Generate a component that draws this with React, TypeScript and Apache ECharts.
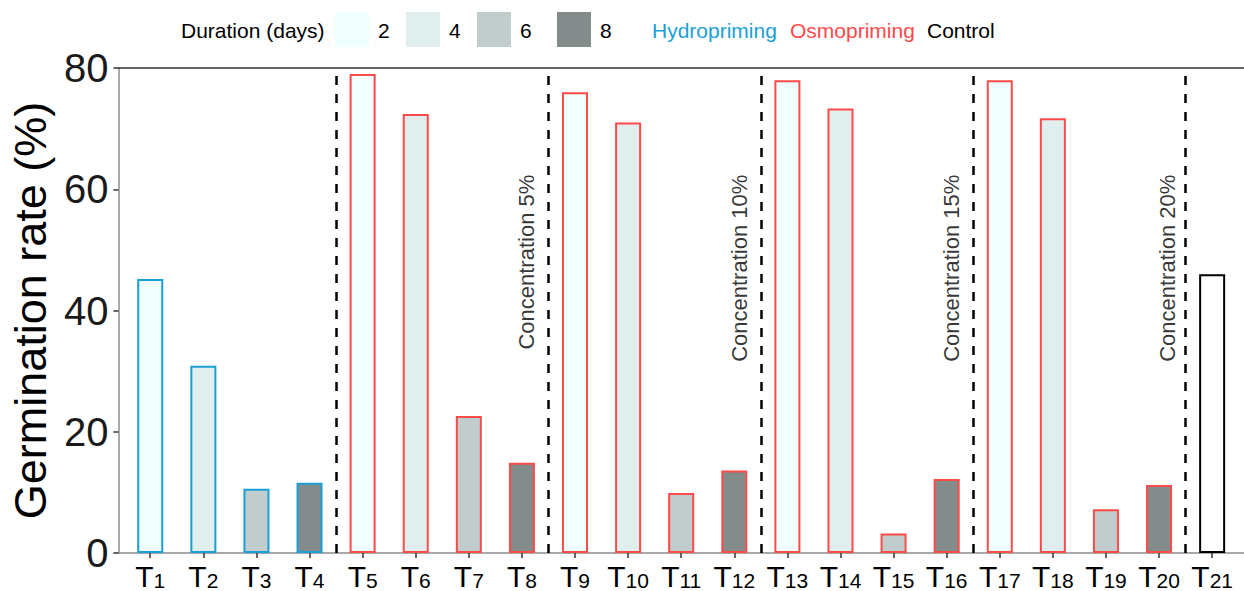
import React, { useEffect, useRef } from "react";
import * as echarts from "echarts";

const treatmentNumbers = [1, 2, 3, 4, 5, 6, 7, 8, 9, 10, 11, 12, 13, 14, 15, 16, 17, 18, 19, 20, 21];
const germinationRate = [45.2, 30.9, 10.6, 11.6, 79.0, 72.4, 22.6, 14.9, 76.0, 71.0, 9.9, 13.6, 78.0, 73.3, 3.2, 12.2, 78.0, 71.7, 7.2, 11.2, 46.0];
const durationDays = [2, 4, 6, 8, 2, 4, 6, 8, 2, 4, 6, 8, 2, 4, 6, 8, 2, 4, 6, 8, 0];
const primingType = [
  "Hydropriming", "Hydropriming", "Hydropriming", "Hydropriming",
  "Osmopriming", "Osmopriming", "Osmopriming", "Osmopriming",
  "Osmopriming", "Osmopriming", "Osmopriming", "Osmopriming",
  "Osmopriming", "Osmopriming", "Osmopriming", "Osmopriming",
  "Osmopriming", "Osmopriming", "Osmopriming", "Osmopriming",
  "Control",
];
const dividerPositions = [4.5, 8.5, 12.5, 16.5, 20.5];
const concentrationLabels = ["Concentration 5%", "Concentration 10%", "Concentration 15%", "Concentration 20%"];
const concentrationLabelX = [8.09, 12.09, 16.09, 20.15];
const concentrationLabelTop = 62.4;
const durationLegend = [2, 4, 6, 8];
const primingLegend = ["Hydropriming", "Osmopriming", "Control"];
const yTicks = { min: 0, max: 80, interval: 20 };

const durationFill: Record<number, string> = {
  0: "#FFFFFF",
  2: "#F0FFFF",
  4: "#E0EEEE",
  6: "#C1CDCD",
  8: "#838B8B",
};
const primingColor: Record<string, string> = {
  Hydropriming: "#1A9FD6",
  Osmopriming: "#FF4A4A",
  Control: "#000000",
};

const FONT = "'Liberation Sans', Arial, sans-serif";

export default function App() {
  const ref = useRef<HTMLDivElement>(null);

  useEffect(() => {
    if (!ref.current) return;
    const chart = echarts.init(ref.current, null, { renderer: "svg" });

    const barData = treatmentNumbers.map((n, i) => ({
      value: [n, germinationRate[i]],
      itemStyle: {
        color: durationFill[durationDays[i]],
        borderColor: primingColor[primingType[i]],
        borderWidth: 2,
      },
    }));

    const labelData = concentrationLabels.map((name, i) => ({
      name,
      value: [concentrationLabelX[i], concentrationLabelTop],
    }));

    const legendEls: any[] = [];
    legendEls.push({
      type: "text",
      x: 181,
      y: 30,
      style: { text: "Duration (days)", font: `21px ${FONT}`, fill: "#000", textVerticalAlign: "middle" },
    });
    const boxX = [335, 406, 477, 557];
    durationLegend.forEach((d, i) => {
      legendEls.push({
        type: "rect",
        shape: { x: boxX[i], y: 12, width: 34, height: 35 },
        style: { fill: durationFill[d] },
      });
      legendEls.push({
        type: "text",
        x: boxX[i] + 43,
        y: 30,
        style: { text: String(d), font: `21px ${FONT}`, fill: "#000", textVerticalAlign: "middle" },
      });
    });
    const primX = [652, 790, 927];
    primingLegend.forEach((p, i) => {
      legendEls.push({
        type: "text",
        x: primX[i],
        y: 30,
        style: { text: p, font: `21px ${FONT}`, fill: primingColor[p], textVerticalAlign: "middle" },
      });
    });

    chart.setOption({
      animation: false,
      grid: { left: 114, top: 68, width: 1131, bottom: 38, containLabel: false },
      xAxis: [
        {
          type: "value",
          min: 0.4,
          max: 21.6,
          position: "bottom",
          axisLine: { show: true, lineStyle: { color: "#8c8c8c", width: 1.5 } },
          axisTick: { show: true, customValues: treatmentNumbers, length: 5, lineStyle: { color: "#333", width: 1.5 } },
          axisLabel: {
            customValues: treatmentNumbers,
            margin: 8,
            formatter: (v: number) => `{t|T}{s|${v}}`,
            rich: {
              t: { fontSize: 30, fontFamily: FONT, color: "#000", verticalAlign: "bottom", lineHeight: 30 },
              s: { fontSize: 21, fontFamily: FONT, color: "#000", verticalAlign: "bottom", lineHeight: 24 },
            },
          },
          splitLine: { show: false },
        },
        {
          type: "value",
          min: 0.4,
          max: 21.6,
          position: "top",
          axisLine: { show: true, lineStyle: { color: "#333", width: 1.5 } },
          axisTick: { show: false },
          axisLabel: { show: false },
          splitLine: { show: false },
        },
      ],
      yAxis: {
        type: "value",
        min: yTicks.min,
        max: yTicks.max,
        interval: yTicks.interval,
        name: "Germination rate (%)",
        nameLocation: "middle",
        nameGap: 62,
        nameTextStyle: { fontSize: 45, fontFamily: FONT, color: "#000" },
        axisLine: { show: true, lineStyle: { color: "#8c8c8c", width: 1.5 } },
        axisTick: { show: true, length: 5, lineStyle: { color: "#333", width: 1.5 } },
        axisLabel: { fontSize: 40, fontFamily: FONT, color: "#1a1a1a", margin: 10 },
        splitLine: { show: false },
      },
      series: [
        {
          type: "bar",
          xAxisIndex: 0,
          barWidth: 26,
          data: barData,
          markLine: {
            silent: true,
            symbol: ["none", "none"],
            label: { show: false },
            lineStyle: { color: "#000", type: [9, 9], width: 2.5 },
            data: dividerPositions.map((x) => ({ xAxis: x })),
          },
        },
        {
          type: "scatter",
          xAxisIndex: 0,
          symbolSize: 0,
          silent: true,
          data: labelData,
          label: {
            show: true,
            position: "inside",
            rotate: 90,
            align: "right",
            verticalAlign: "middle",
            formatter: (p: any) => p.name,
            fontSize: 22,
            fontFamily: FONT,
            color: "#000",
          },
        },
      ],
      graphic: legendEls,
    });

    return () => chart.dispose();
  }, []);

  return (
    <div
      ref={ref}
      style={{ position: "absolute", left: 0, top: 0, width: 1244, height: 591, background: "#fff" }}
    />
  );
}
